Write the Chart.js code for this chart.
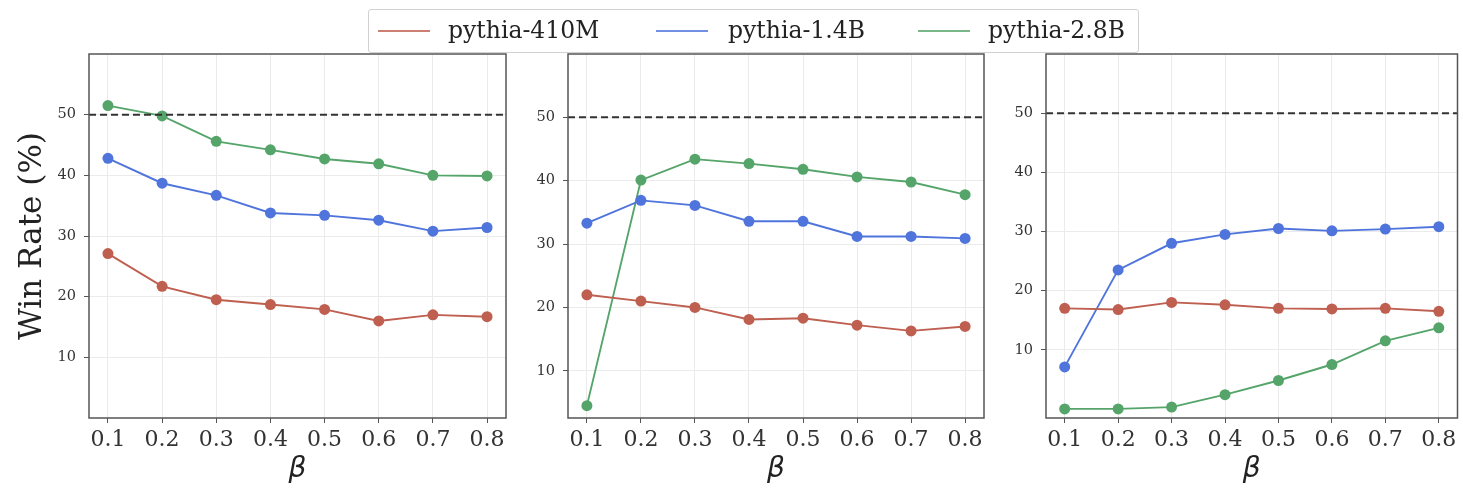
<!DOCTYPE html>
<html>
<head>
<meta charset="utf-8">
<script src="https://cdn.jsdelivr.net/npm/chart.js@4.4.1/dist/chart.umd.min.js"></script>
<style>
  html, body { margin:0; padding:0; background:#fff; }
  #wrap { position:relative; width:1463px; height:494px; overflow:hidden; }
  #wrap canvas { position:absolute; top:0; }
  .legend { position:absolute; left:368px; top:9px; width:771px; height:44px; box-sizing:border-box;
            border:1px solid #d2d2d2; border-radius:3px; background:#fff; z-index:2;
            font-family:"DejaVu Serif", serif; font-size:23.5px; color:#222; }
  .legend .ln { position:absolute; top:20px; width:52px; height:2px; }
  .legend .tx { position:absolute; top:0; line-height:41px; white-space:nowrap; }
</style>
</head>
<body>
<div id="wrap">
  <canvas id="p1" width="520" height="494" style="left:0px"></canvas>
  <canvas id="p2" width="470" height="494" style="left:520px"></canvas>
  <canvas id="p3" width="473" height="494" style="left:990px"></canvas>
  <div class="legend" id="legend"></div>
</div>
<script>
/* ---- data ---- */
const BETAS = [0.1, 0.2, 0.3, 0.4, 0.5, 0.6, 0.7, 0.8];
const SERIES = ["pythia-410M", "pythia-1.4B", "pythia-2.8B"];
const COLORS = ["#bf5f50", "#4f74dc", "#55a56a"];

// panel 1
const P1_410M = [27.1, 21.7, 19.5, 18.7, 17.9, 16.0, 17.0, 16.7];
const P1_1_4B = [42.8, 38.7, 36.7, 33.8, 33.4, 32.6, 30.8, 31.4];
const P1_2_8B = [51.5, 49.8, 45.6, 44.2, 42.7, 41.9, 40.0, 39.9];
// panel 2
const P2_410M = [22.0, 21.0, 20.0, 18.1, 18.3, 17.2, 16.3, 17.0];
const P2_1_4B = [33.3, 36.9, 36.1, 33.6, 33.6, 31.2, 31.2, 30.9];
const P2_2_8B = [4.5, 40.1, 43.4, 42.7, 41.8, 40.6, 39.8, 37.8];
// panel 3
const P3_410M = [17.0, 16.8, 18.0, 17.6, 17.0, 16.9, 17.0, 16.5];
const P3_1_4B = [7.1, 23.5, 28.0, 29.5, 30.5, 30.1, 30.4, 30.8];
const P3_2_8B = [0.0, 0.0, 0.3, 2.4, 4.8, 7.5, 11.5, 13.7];

const Y_TICKS = [10, 20, 30, 40, 50];
const Y_MIN = [0, 2.55, -1.54];
const Y_MAX = 60;
const X_MIN = 0.065, X_MAX = 0.835;
const REF_LINE = 50;

/* frame + dashed 50% line */
const framePlugin = {
  id: "frame",
  afterDatasetsDraw(chart){
    const {ctx, chartArea:a, scales:{y}} = chart;
    const yy = y.getPixelForValue(REF_LINE);
    ctx.save();
    ctx.strokeStyle = "#333";
    ctx.lineWidth = 2;
    ctx.setLineDash([7, 4]);
    ctx.beginPath(); ctx.moveTo(a.left, yy); ctx.lineTo(a.right, yy); ctx.stroke();
    ctx.setLineDash([]);
    ctx.strokeStyle = "#555";
    ctx.lineWidth = 1.5;
    ctx.strokeRect(a.left, a.top, a.right - a.left, a.bottom - a.top);
    ctx.restore();
  }
};

function makePanel(id, values, yMin, axisW, padRight, showTitle){
  const c = document.getElementById(id);
  return new Chart(c, {
    type: "line",
    data: { datasets: values.map((v, i) => ({
      label: SERIES[i],
      data: BETAS.map((b, k) => ({x: b, y: v[k]})),
      borderColor: COLORS[i], backgroundColor: COLORS[i],
      borderWidth: 1.9, pointRadius: 5.5, pointBorderWidth: 0,
      pointBackgroundColor: COLORS[i], tension: 0, clip: false
    }))},
    options: {
      responsive: false, animation: false, devicePixelRatio: 1,
      layout: { padding: { top: 54, right: padRight, bottom: 0, left: 0 } },
      plugins: { legend: { display: false }, tooltip: { enabled: false } },
      scales: {
        x: {
          type: "linear", min: X_MIN, max: X_MAX,
          afterBuildTicks: s => { s.ticks = BETAS.map(b => ({value: b})); },
          afterFit: s => { s.height = 76; },
          grid: { color: "#ebebeb", lineWidth: 1, tickColor: "#555", tickLength: 5, drawTicks: true },
          border: { display: false },
          ticks: { color: "#333", padding: 4, maxRotation: 0, autoSkip: false,
                   font: { family: "DejaVu Serif", size: 22 },
                   callback: v => v.toFixed(1) },
          title: { display: true, text: "β", color: "#222",
                   font: { family: "DejaVu Sans", size: 28, style: "italic" },
                   padding: { top: 0, bottom: 7 } }
        },
        y: {
          min: yMin, max: Y_MAX,
          afterBuildTicks: s => { s.ticks = Y_TICKS.map(t => ({value: t})); },
          afterFit: s => { s.width = axisW; },
          grid: { color: "#ebebeb", lineWidth: 1, tickColor: "#555", tickLength: 5, drawTicks: true },
          border: { display: false },
          ticks: { color: "#333", padding: 8, font: { family: "DejaVu Serif", size: 14.5 } },
          title: { display: showTitle, text: "Win Rate (%)", color: "#222",
                   font: { family: "DejaVu Serif", size: 31, weight: "normal" },
                   padding: { top: 14, bottom: 0 } }
        }
      }
    },
    plugins: [framePlugin]
  });
}

makePanel("p1", [P1_410M, P1_1_4B, P1_2_8B], Y_MIN[0], 89, 14, true);
makePanel("p2", [P2_410M, P2_1_4B, P2_2_8B], Y_MIN[1], 48, 6, false);
makePanel("p3", [P3_410M, P3_1_4B, P3_2_8B], Y_MIN[2], 56, 2, false);

/* shared legend across the top */
const LEG_LINE_X = [9, 287, 549];
const LEG_TEXT_X = [79, 359, 619];
const leg = document.getElementById("legend");
SERIES.forEach((name, i) => {
  const ln = document.createElement("span");
  ln.className = "ln"; ln.style.left = LEG_LINE_X[i] + "px"; ln.style.background = COLORS[i];
  ln.style.opacity = 0.8;
  const tx = document.createElement("span");
  tx.className = "tx"; tx.style.left = LEG_TEXT_X[i] + "px"; tx.textContent = name;
  leg.appendChild(ln); leg.appendChild(tx);
});
</script>
</body>
</html>
